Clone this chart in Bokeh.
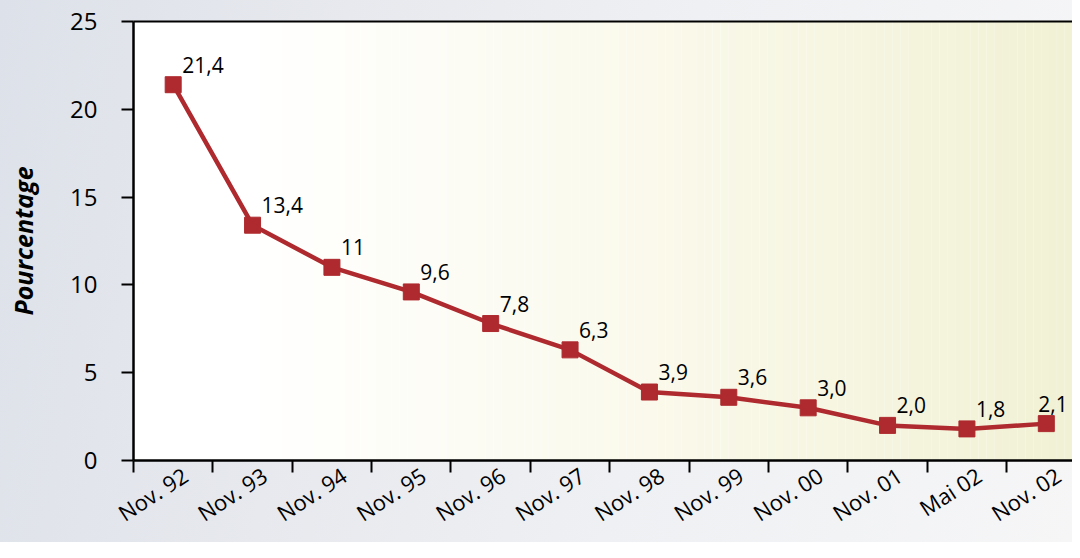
import math
import numpy as np
from bokeh.plotting import figure
from bokeh.models import Range1d, FixedTicker, LinearAxis, ColumnDataSource
from bokeh.core.properties import value
from bokeh.embed import file_html
from bokeh.resources import INLINE

# ---- data ----
categories = ["Nov. 92", "Nov. 93", "Nov. 94", "Nov. 95", "Nov. 96", "Nov. 97",
              "Nov. 98", "Nov. 99", "Nov. 00", "Nov. 01", "Mai 02", "Nov. 02"]
values = [21.4, 13.4, 11.0, 9.6, 7.8, 6.3, 3.9, 3.6, 3.0, 2.0, 1.8, 2.1]
value_labels = ["21,4", "13,4", "11", "9,6", "7,8", "6,3", "3,9", "3,6",
                "3,0", "2,0", "1,8", "2,1"]
y_ticks = [0, 5, 10, 15, 20, 25]
y_title = "Pourcentage"

FONT = "Open Sans"
RED = "#ae2a2e"

n = len(categories)
xs = [i + 0.5 for i in range(n)]
label_pos = [x + 0.15 for x in xs]   # category labels sit slightly right of centre
x_end = n - 0.17

p = figure(width=1072, height=542,
           x_range=Range1d(0, x_end), y_range=Range1d(0, 25),
           output_backend="svg", toolbar_location=None,
           min_border_left=133, min_border_top=21, min_border_bottom=80,
           min_border_right=0,
           border_fill_color=None, outline_line_color=None,
           background_fill_color="#ffffff",
           x_axis_type=None, y_axis_type=None,
           styles={"background": "linear-gradient(100deg, #dde1e9 0%, #e7e9ee 30%, #eef0f3 60%, #f6f6f7 100%)"})
p.grid.visible = False

# inner background gradient (white -> pale yellow-green)
nstrip = 120
edges = np.linspace(0, x_end, nstrip + 1)
c0 = np.array([255, 255, 255])
c1 = np.array([250, 249, 235])
c2 = np.array([241, 241, 213])
cols = []
for k in range(nstrip):
    t = (k + 0.5) / nstrip
    if t < 0.12:
        c = c0
    elif t < 0.55:
        u = (t - 0.12) / 0.43
        c = c0 + (c1 - c0) * u
    else:
        u = (t - 0.55) / 0.45
        c = c1 + (c2 - c1) * u
    cols.append("#%02x%02x%02x" % tuple(int(round(v)) for v in c))
p.quad(left=edges[:-1], right=edges[1:], bottom=0, top=25,
       fill_color=cols, line_color=None)

# y axis
yaxis = LinearAxis(ticker=FixedTicker(ticks=y_ticks), axis_label=y_title)
yaxis.axis_line_width = 2.5
yaxis.axis_line_color = "black"
yaxis.major_tick_line_width = 2
yaxis.major_tick_out = 12
yaxis.major_tick_in = 0
yaxis.minor_tick_line_color = None
yaxis.major_label_standoff = 24
yaxis.major_label_text_font = FONT
yaxis.major_label_text_font_size = "24px"
yaxis.major_label_text_color = "black"
yaxis.axis_label_text_font = FONT
yaxis.axis_label_text_font_size = "25px"
yaxis.axis_label_text_font_style = "bold italic"
yaxis.axis_label_text_color = "black"
yaxis.axis_label_standoff = 27
p.add_layout(yaxis, "left")

# x axis: labels near category centres, ticks at category boundaries (minor ticks)
xaxis = LinearAxis(ticker=FixedTicker(ticks=label_pos, minor_ticks=list(range(n + 1))))
xaxis.major_label_overrides = {x: c for x, c in zip(label_pos, categories)}
xaxis.axis_line_width = 2.5
xaxis.axis_line_color = "black"
xaxis.major_tick_line_color = None
xaxis.major_tick_out = 2
xaxis.major_tick_in = 0
xaxis.minor_tick_line_color = "black"
xaxis.minor_tick_line_width = 2
xaxis.minor_tick_out = 12
xaxis.minor_tick_in = 0
xaxis.major_label_orientation = math.radians(33)
xaxis.major_label_standoff = 0
xaxis.major_label_text_font = FONT
xaxis.major_label_text_font_size = "22px"
xaxis.major_label_text_color = "black"
p.add_layout(xaxis, "below")

# top border line
top = LinearAxis(ticker=FixedTicker(ticks=[]))
top.axis_line_width = 2
top.axis_line_color = "black"
top.major_tick_line_color = None
top.minor_tick_line_color = None
top.major_label_standoff = 0
p.add_layout(top, "above")

# value labels: right of each marker; the last one is pulled in so it stays visible
x_offsets = [9] * (n - 1) + [-8]
src = ColumnDataSource(dict(x=xs, y=values, lab=value_labels, xo=x_offsets))
p.line("x", "y", source=src, line_color=RED, line_width=4.5)
p.scatter("x", "y", source=src, marker="square", size=16,
          fill_color=RED, line_color=RED)
p.text("x", "y", text="lab", source=src, x_offset="xo", y_offset=-20,
       text_font=value(FONT), text_font_size="21px", text_color="black",
       text_align="left", text_baseline="alphabetic")

open("out.html", "w").write(file_html(p, INLINE))
